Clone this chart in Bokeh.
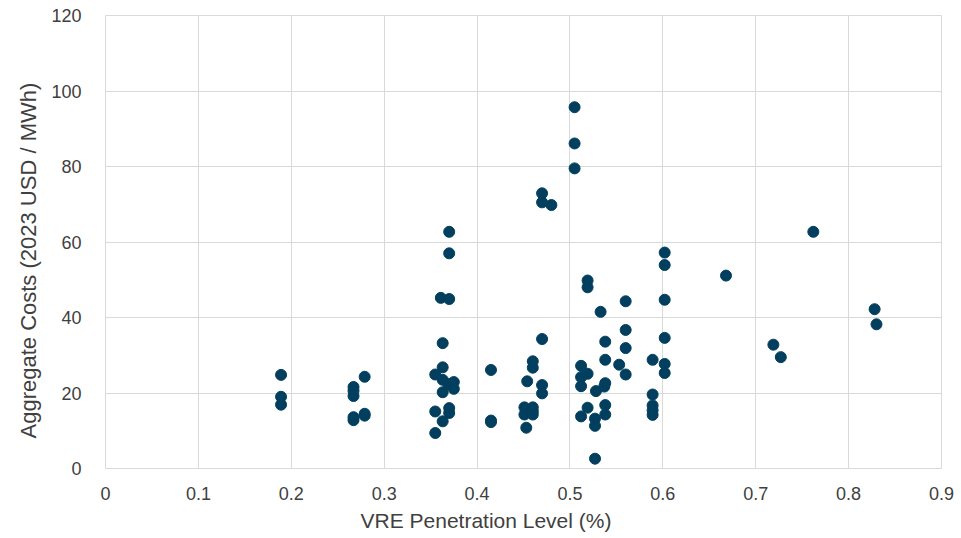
from bokeh.plotting import figure
from bokeh.models import FixedTicker, ColumnDataSource, Title
from bokeh.embed import file_html
from bokeh.resources import INLINE

# VRE penetration level (fraction) and aggregate cost (2023 USD / MWh)
vre = [
    0.189, 0.189, 0.189,
    0.267, 0.267, 0.267, 0.267, 0.267,
    0.279, 0.279, 0.279,
    0.355, 0.355, 0.355,
    0.361,
    0.363, 0.363, 0.363, 0.363, 0.363,
    0.369,
    0.370, 0.370, 0.370, 0.370, 0.370,
    0.375, 0.375,
    0.415, 0.415, 0.415,
    0.451, 0.451, 0.453,
    0.454,
    0.460, 0.460, 0.460, 0.460, 0.460,
    0.470, 0.470, 0.470, 0.470, 0.470,
    0.480,
    0.505, 0.505, 0.505,
    0.512, 0.512, 0.512, 0.512,
    0.519, 0.519, 0.519, 0.519,
    0.527, 0.527, 0.527, 0.528,
    0.533,
    0.538, 0.538, 0.538, 0.537, 0.538, 0.538,
    0.553,
    0.560, 0.560, 0.560, 0.560,
    0.589, 0.589, 0.589, 0.589, 0.589,
    0.602, 0.602, 0.602, 0.602, 0.602, 0.602,
    0.668, 0.719, 0.727, 0.762, 0.828, 0.830,
]
cost = [
    24.8, 19.0, 16.9,
    21.6, 20.6, 19.2, 13.6, 12.8,
    24.3, 14.5, 14.0,
    24.9, 15.1, 9.4,
    45.2,
    33.2, 26.8, 23.5, 20.2, 12.5,
    22.4,
    62.7, 57.0, 44.9, 16.0, 14.7,
    22.9, 21.1,
    26.1, 12.7, 12.3,
    16.2, 14.3, 10.8,
    23.1,
    28.4, 26.7, 16.2, 15.2, 14.3,
    72.9, 70.5, 34.3, 22.1, 19.9,
    69.8,
    95.7, 86.1, 79.5,
    27.2, 24.2, 21.8, 13.8,
    49.8, 48.0, 25.1, 16.1,
    2.6, 11.3, 13.2, 20.5,
    41.5,
    33.6, 28.8, 22.6, 21.7, 16.8, 14.3,
    27.5,
    44.3, 36.7, 31.9, 24.9,
    28.8, 19.6, 16.7, 15.4, 14.2,
    57.2, 53.9, 44.7, 34.6, 27.7, 25.3,
    51.1, 32.8, 29.5, 62.7, 42.2, 38.2,
]

x_ticks = [0, 0.1, 0.2, 0.3, 0.4, 0.5, 0.6, 0.7, 0.8, 0.9]
x_tick_labels = ["0", "0.1", "0.2", "0.3", "0.4", "0.5", "0.6", "0.7", "0.8", "0.9"]
y_ticks = [0, 20, 40, 60, 80, 100, 120]
x_title = "VRE Penetration Level (%)"
y_title = "Aggregate Costs (2023 USD / MWh)"

FONT = "Liberation Sans"
TXT = "#404040"
GRID = "#d9d9d9"

p = figure(width=961, height=538, output_backend="svg", toolbar_location=None,
           x_range=(0, 0.9), y_range=(0, 120),
           min_border_left=105, min_border_right=20,
           min_border_top=15, min_border_bottom=70)
p.outline_line_color = GRID
p.outline_line_width = 1
p.background_fill_color = "white"
p.border_fill_color = "white"

src = ColumnDataSource(dict(x=vre, y=cost))
p.scatter("x", "y", source=src, size=11, fill_color="#023f5f", line_color="#023f5f")

p.xaxis.ticker = FixedTicker(ticks=x_ticks)
p.xaxis.major_label_overrides = {t: l for t, l in zip(x_ticks, x_tick_labels)}
p.yaxis.ticker = FixedTicker(ticks=y_ticks)

for ax in (p.xaxis[0], p.yaxis[0]):
    ax.axis_line_color = None
    ax.major_tick_line_color = None
    ax.minor_tick_line_color = None
    ax.major_label_text_font = FONT
    ax.major_label_text_font_size = "18px"
    ax.major_label_text_color = TXT
p.xaxis.major_label_standoff = 12
p.yaxis.major_label_standoff = 18

p.xgrid.ticker = FixedTicker(ticks=x_ticks)
p.ygrid.ticker = FixedTicker(ticks=y_ticks)
p.xgrid.grid_line_color = GRID
p.ygrid.grid_line_color = GRID

# Axis titles as side titles (offset from the frame edge as in the reference)
p.add_layout(Title(text=x_title, align="left", offset=255, standoff=8,
                   text_font=FONT, text_font_size="21px",
                   text_font_style="normal", text_color=TXT), "below")
p.add_layout(Title(text=y_title, align="left", offset=30, standoff=16,
                   text_font=FONT, text_font_size="22px",
                   text_font_style="normal", text_color=TXT), "left")

open("out.html", "w").write(file_html(p, INLINE))
